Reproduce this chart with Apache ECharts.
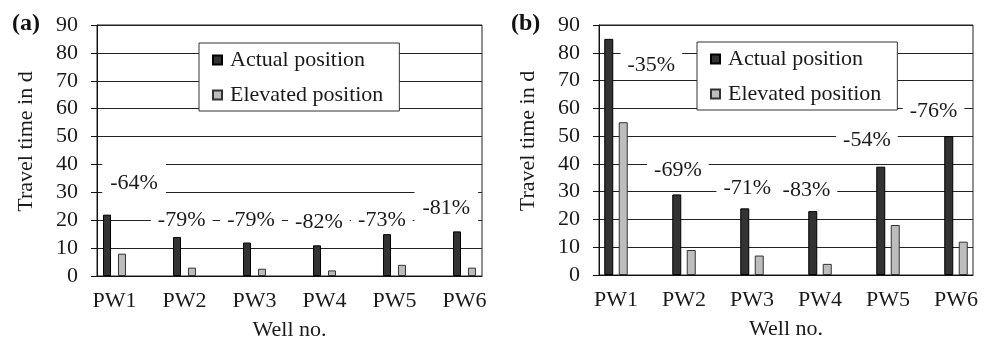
<!DOCTYPE html>
<html>
<head>
<meta charset="utf-8">
<script src="https://cdn.jsdelivr.net/npm/echarts@6/dist/echarts.min.js"></script>
<style>
html,body{margin:0;padding:0;background:#fff;}
#chart{width:989px;height:337px;}
</style>
</head>
<body>
<div id="chart"></div>
<script>
// ---- data ----
const categories = ['PW1', 'PW2', 'PW3', 'PW4', 'PW5', 'PW6'];
const actualA = [22, 14, 12, 11, 15, 16];
const elevatedA = [8, 3, 2.6, 2, 4, 3];
const actualB = [85, 29, 24, 23, 39, 50];
const elevatedB = [55, 9, 7, 4, 18, 12];
const changeA = ['-64%', '-79%', '-79%', '-82%', '-73%', '-81%'];
const changeB = ['-35%', '-69%', '-71%', '-83%', '-54%', '-76%'];
const yTickValues = [0, 10, 20, 30, 40, 50, 60, 70, 80, 90];
const seriesNames = ['Actual position', 'Elevated position'];
const panelNames = ['(a)', '(b)'];

// ---- layout (label anchor positions in axis units, box paddings) ----
const labelAnchorA = [[0.28, 33.3], [0.96, 20.1], [1.95, 20.1], [2.92, 19.4], [3.82, 20.1], [4.74, 24.4]];
const labelAnchorB = [[0.52, 75.6], [0.91, 37.9], [1.93, 31.4], [2.80, 30.7], [3.69, 48.7], [4.67, 59.1]];
const labelPadA = [[10, 8], [4, 7], [4, 7], [4, 7], [4, 7], [6, 8]];
const labelPadB = [[4, 7], [4, 7], [4, 7], [4, 7], [4, 7], [4, 7]];

const FONT = "'Liberation Serif', 'Times New Roman', serif";
const INK = '#1a1a1a';

function xAxisCfg(gridIndex) {
  return {
    type: 'value', gridIndex: gridIndex, min: -0.25, max: 5.25,
    name: 'Well no.', nameLocation: 'middle', nameGap: 43,
    nameTextStyle: { fontFamily: FONT, fontSize: 22, color: INK },
    axisLine: { show: true, onZero: false, lineStyle: { color: '#111', width: 1 } },
    axisTick: { show: false },
    splitLine: { show: false },
    axisLabel: {
      customValues: categories.map((c, i) => i),
      formatter: v => categories[Math.round(v)],
      fontFamily: FONT, fontSize: 22, color: INK, margin: 14
    }
  };
}
function yAxisCfg(gridIndex) {
  return {
    type: 'value', gridIndex: gridIndex,
    min: yTickValues[0], max: yTickValues[yTickValues.length - 1], interval: yTickValues[1] - yTickValues[0],
    name: 'Travel time in d', nameLocation: 'middle', nameGap: 60,
    nameTextStyle: { fontFamily: FONT, fontSize: 22, color: INK, padding: [0, 0, 0, 18] },
    axisLine: { show: true, onZero: false, lineStyle: { color: '#111', width: 1 } },
    axisTick: { show: true, length: 6, lineStyle: { color: '#111' } },
    splitLine: { show: true, lineStyle: { color: '#222', width: 1 } },
    axisLabel: { fontFamily: FONT, fontSize: 22, color: INK, margin: 19 }
  };
}
function barSeries(name, values, gi, color, border, bw, gap) {
  return {
    type: 'bar', name: name, xAxisIndex: gi, yAxisIndex: gi,
    data: values.map((v, i) => [i, v]),
    barWidth: bw, barGap: gap,
    itemStyle: { color: color, borderColor: border, borderWidth: 1 },
    emphasis: { disabled: true }, z: 5
  };
}
function labelSeries(texts, anchors, pads, gi) {
  return {
    type: 'scatter', xAxisIndex: gi, yAxisIndex: gi, symbolSize: 0, silent: true, z: 4,
    itemStyle: { opacity: 1 },
    data: texts.map((t, i) => ({
      value: [anchors[i][0], anchors[i][1]], text: t,
      label: { padding: pads[i] }
    })),
    label: {
      show: true, position: 'inside',
      formatter: p => p.data.text,
      fontFamily: FONT, fontSize: 22, color: INK,
      backgroundColor: '#fff'
    },
    emphasis: { disabled: true }
  };
}
function legendCfg(left, top) {
  return {
    data: seriesNames, orient: 'vertical', left: left, top: top,
    backgroundColor: '#fff', borderColor: '#333', borderWidth: 1,
    padding: [6, 16, 5, 13], itemGap: 13, itemWidth: 9, itemHeight: 9,
    icon: 'rect',
    textStyle: { fontFamily: FONT, fontSize: 22, color: INK, padding: [0, 0, 0, 3] },
    selectedMode: false, z: 10
  };
}

const chart = echarts.init(document.getElementById('chart'), null, { renderer: 'canvas' });
chart.setOption({
  animation: false,
  backgroundColor: '#fff',
  grid: [
    { left: 97, top: 25, width: 385, height: 251, show: true, borderColor: '#222', borderWidth: 1, backgroundColor: 'transparent', containLabel: false, outerBoundsMode: 'none' },
    { left: 599, top: 25, width: 374, height: 250, show: true, borderColor: '#222', borderWidth: 1, backgroundColor: 'transparent', containLabel: false, outerBoundsMode: 'none' }
  ],
  xAxis: [xAxisCfg(0), xAxisCfg(1)],
  yAxis: [yAxisCfg(0), yAxisCfg(1)],
  legend: [legendCfg(199, 43), legendCfg(697, 42)],
  graphic: [
    { type: 'text', left: 12, top: 12, style: { text: panelNames[0], font: 'bold 24px ' + FONT, fill: '#111' } },
    { type: 'text', left: 511, top: 12, style: { text: panelNames[1], font: 'bold 24px ' + FONT, fill: '#111' } }
  ],
  series: [
    barSeries(seriesNames[0], actualA, 0, '#333', '#000', 8, '87%'),
    barSeries(seriesNames[1], elevatedA, 0, '#bdbdbd', '#333', 8, '87%'),
    labelSeries(changeA, labelAnchorA, labelPadA, 0),
    barSeries(seriesNames[0], actualB, 1, '#333', '#000', 9, '61%'),
    barSeries(seriesNames[1], elevatedB, 1, '#bdbdbd', '#333', 9, '61%'),
    labelSeries(changeB, labelAnchorB, labelPadB, 1)
  ]
});
</script>
</body>
</html>
